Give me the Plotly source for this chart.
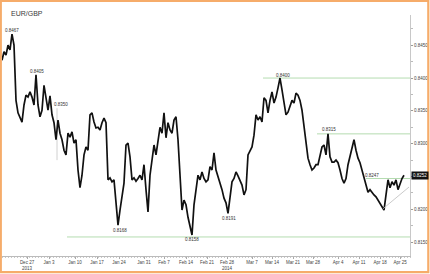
import plotly.graph_objects as go

# EUR/GBP price path (hourly-ish samples)
prices = [
    0.8427, 0.8440, 0.8435, 0.8450, 0.8443, 0.8467, 0.8450, 0.8366, 0.8347, 0.8341,
    0.8333, 0.8359, 0.8374, 0.8371, 0.8379, 0.8371, 0.8359, 0.8405, 0.8359, 0.8341,
    0.8351, 0.8389, 0.8366, 0.8351, 0.8373, 0.8344, 0.8332, 0.8306, 0.8336, 0.8316,
    0.8306, 0.8290, 0.8283, 0.8316, 0.8310, 0.8318, 0.8301, 0.8306, 0.8260, 0.8233,
    0.8252, 0.8283, 0.8295, 0.8290, 0.8344, 0.8347, 0.8333, 0.8324, 0.8325, 0.8321,
    0.8332, 0.8339, 0.8332, 0.8245, 0.8248, 0.8242, 0.8245, 0.8214, 0.8176, 0.8199,
    0.8222, 0.8240, 0.8298, 0.8301, 0.8280, 0.8245, 0.8248, 0.8243, 0.8247, 0.8252,
    0.8245, 0.8268, 0.8230, 0.8196, 0.8252, 0.8280, 0.8298, 0.8283, 0.8301, 0.8325,
    0.8316, 0.8347, 0.8309, 0.8332, 0.8321, 0.8316, 0.8336, 0.8341, 0.8306, 0.8245,
    0.8199, 0.8214, 0.8207, 0.8188, 0.8173, 0.8161, 0.8207, 0.8234, 0.8252, 0.8245,
    0.8257, 0.8247, 0.8242, 0.8245, 0.8265, 0.8260, 0.8286, 0.8260, 0.8251, 0.8242,
    0.8230, 0.8217, 0.8210, 0.8194, 0.8222, 0.8242, 0.8247, 0.8257, 0.8251, 0.8243,
    0.8237, 0.8222, 0.8230, 0.8283, 0.8290, 0.8295, 0.8313, 0.8344, 0.8336, 0.8341,
    0.8333, 0.8370, 0.8366, 0.8347, 0.8366, 0.8379, 0.8362, 0.8371, 0.8385, 0.8400,
    0.8382, 0.8363, 0.8344, 0.8348, 0.8356, 0.8366, 0.8362, 0.8377, 0.8374, 0.8366,
    0.8351, 0.8328, 0.8298, 0.8278, 0.8268, 0.8260, 0.8263, 0.8268, 0.8268, 0.8280,
    0.8295, 0.8298, 0.8283, 0.8315, 0.8280, 0.8272, 0.8272, 0.8275, 0.8271, 0.8260,
    0.8247, 0.8240, 0.8247, 0.8268, 0.8280, 0.8295, 0.8306, 0.8290, 0.8278, 0.8271,
    0.8260, 0.8248, 0.8237, 0.8226, 0.8230, 0.8225, 0.8222, 0.8219, 0.8214, 0.8210,
    0.8204, 0.8199, 0.8222, 0.8245, 0.8233, 0.8242, 0.8237, 0.8245, 0.8230, 0.8240,
    0.8247, 0.8252,
]
bar_index = list(range(len(prices)))

# x-axis labels (weekly) and their bar positions
x_tick_pos = [12.5, 23.5, 36.5, 47.5, 58.5, 71, 81, 92, 102.5, 112.5,
              125, 135, 145.5, 155.5, 168, 178.5, 189, 199]
x_tick_text = ["Dec 27<br>2013", "Jan 3", "Jan 10", "Jan 17", "Jan 24", "Jan 31",
               "Feb 7", "Feb 14", "Feb 21", "Feb 28<br>2014", "Mar 7", "Mar 14",
               "Mar 21", "Mar 28", "Apr 4", "Apr 11", "Apr 18", "Apr 25"]

# y-axis labels
y_tick_vals = [0.8150, 0.8200, 0.8250, 0.8300, 0.8350, 0.8400, 0.8450]
y_tick_text = ["%.4f" % v for v in y_tick_vals]

# horizontal support / resistance levels and the bar where each starts
levels = [0.8400, 0.8315, 0.8247, 0.8158]
level_start = [130.5, 157.5, 182, 32.5]

# annotated turning points: value, bar, vertical shift (px)
point_vals = [0.8467, 0.8405, 0.8350, 0.8168, 0.8158, 0.8191, 0.8400, 0.8315, 0.8247]
point_bars = [5, 17.5, 29.5, 59, 95, 113.5, 140.5, 163.5, 185]
point_shift = [3.5, 3, 6, 0, -3, -3, 3, 4, 3.5]

# rising trend line (start bar, start value, end bar, end value)
trend = [190.5, 0.8201, 203.5, 0.8234]

X_MAX = 204
fig = go.Figure()
fig.add_trace(go.Scatter(
    x=bar_index, y=prices, mode="lines",
    line=dict(color="#111111", width=1.7),
    hoverinfo="skip", showlegend=False,
))

shapes = []
for lv, st in zip(levels, level_start):
    shapes.append(dict(type="line", xref="x", yref="y", x0=st, x1=X_MAX, y0=lv, y1=lv,
                       line=dict(color="#b4dcb0", width=1), layer="below"))
shapes.append(dict(type="line", xref="x", yref="y", x0=trend[0], y0=trend[1],
                   x1=trend[2], y1=trend[3], line=dict(color="#bdbdbd", width=0.8)))
shapes.append(dict(type="line", xref="x", yref="y", x0=27.5, x1=27.5, y0=0.8354, y1=0.8275,
                   line=dict(color="#c4c4c4", width=0.8), layer="below"))
# orange frame around the picture
W, H = 430, 274
L, R, T, B = 2, 20, 15, 18
pw, ph = W - L - R, H - T - B
def px2x(px):
    return (px - L) / pw
def py2y(py):
    return (H - B - py) / ph
shapes.append(dict(type="rect", xref="paper", yref="paper",
                   x0=px2x(0.8), x1=px2x(428.3), y0=py2y(272.2), y1=py2y(0.8),
                   line=dict(color="#F6AC6A", width=2.2), fillcolor="rgba(0,0,0,0)"))

annotations = []
for v, b, s in zip(point_vals, point_bars, point_shift):
    annotations.append(dict(x=b, y=v, xref="x", yref="y", text="%.4f" % v,
                            showarrow=False, yshift=s, yanchor="middle",
                            font=dict(family="Liberation Sans", size=4.5, color="#333333")))
annotations.append(dict(x=px2x(9), y=py2y(13), xref="paper", yref="paper", text="EUR/GBP",
                        showarrow=False, xanchor="left", yanchor="middle",
                        font=dict(family="Liberation Sans", size=7, color="#3a3a3a")))
annotations.append(dict(x=1, y=prices[-1], xref="paper", yref="y", text="%.4f" % prices[-1],
                        showarrow=False, xanchor="left", yanchor="middle", xshift=1,
                        bgcolor="#111111", borderpad=1,
                        font=dict(family="Liberation Sans", size=4.5, color="#ffffff")))

fig.update_layout(
    width=W, height=H,
    margin=dict(l=L, r=R, t=T, b=B),
    paper_bgcolor="white", plot_bgcolor="white",
    shapes=shapes, annotations=annotations,
    showlegend=False,
    xaxis=dict(range=[0, X_MAX], tickvals=x_tick_pos, ticktext=x_tick_text,
               showgrid=False, zeroline=False, showline=True, linecolor="#bbbbbb", linewidth=1,
               ticks="outside", ticklen=2, tickcolor="#aaaaaa", tickwidth=0.8,
               minor=dict(dtick=1.5, ticks="outside", ticklen=1.2, tickcolor="#c8c8c8", tickwidth=0.6),
               tickfont=dict(family="Liberation Sans", size=4.5, color="#444444")),
    yaxis=dict(range=[0.8129, 0.8496], side="right", tickvals=y_tick_vals, ticktext=y_tick_text,
               showgrid=False, zeroline=False, showline=True, linecolor="#c8c8c8", linewidth=1,
               ticks="outside", ticklen=2, tickcolor="#999999", tickwidth=0.8,
               minor=dict(dtick=0.0025, tick0=0.8150, ticks="outside", ticklen=1.5, tickcolor="#bbbbbb"),
               tickfont=dict(family="Liberation Sans", size=4.5, color="#444444")),
)

fig.write_html("out.html")
